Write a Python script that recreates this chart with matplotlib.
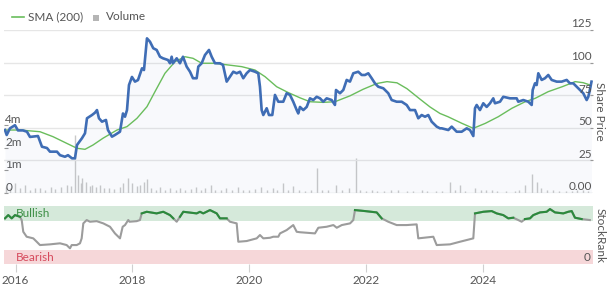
import numpy as np
import matplotlib
matplotlib.use("Agg")
import matplotlib.pyplot as plt
from matplotlib.lines import Line2D
from matplotlib.patches import Rectangle
from matplotlib.ticker import NullLocator
from matplotlib.transforms import blended_transform_factory

plt.rcParams['font.family'] = ['Lato', 'DejaVu Sans']

# share price (decimal year, price)
price_t = [2015.817, 2015.846, 2015.902, 2015.988, 2016.039, 2016.125, 2016.193, 2016.245, 2016.382, 2016.45,
           2016.536, 2016.587, 2016.707, 2016.759, 2016.844, 2016.896, 2016.964, 2017.015, 2017.05, 2017.135,
           2017.187, 2017.221, 2017.307, 2017.358, 2017.392, 2017.426, 2017.478, 2017.546, 2017.58, 2017.649,
           2017.7, 2017.786, 2017.837, 2017.872, 2017.906, 2017.94, 2017.991, 2018.043, 2018.094, 2018.163,
           2018.197, 2018.248, 2018.3, 2018.356, 2018.414, 2018.471, 2018.522, 2018.608, 2018.642, 2018.671,
           2018.693, 2018.757, 2018.813, 2018.865, 2018.928, 2018.985, 2019.036, 2019.099, 2019.127, 2019.185,
           2019.241, 2019.31, 2019.356, 2019.413, 2019.498, 2019.55, 2019.613, 2019.67, 2019.726, 2019.784,
           2019.841, 2019.897, 2019.955, 2020.012, 2020.098, 2020.154, 2020.183, 2020.212, 2020.24, 2020.298,
           2020.337, 2020.394, 2020.44, 2020.497, 2020.582, 2020.64, 2020.697, 2020.753, 2020.812, 2020.839,
           2020.868, 2020.925, 2020.983, 2021.039, 2021.096, 2021.154, 2021.211, 2021.267, 2021.325, 2021.411,
           2021.467, 2021.485, 2021.553, 2021.61, 2021.668, 2021.724, 2021.781, 2021.866, 2021.925, 2021.981,
           2022.038, 2022.096, 2022.152, 2022.209, 2022.295, 2022.38, 2022.438, 2022.524, 2022.61, 2022.695,
           2022.752, 2022.838, 2022.894, 2022.952, 2023.009, 2023.065, 2023.123, 2023.209, 2023.265, 2023.295,
           2023.408, 2023.466, 2023.551, 2023.637, 2023.723, 2023.779, 2023.836, 2023.865, 2023.894, 2023.95,
           2024.007, 2024.065, 2024.122, 2024.178, 2024.207, 2024.293, 2024.349, 2024.464, 2024.579, 2024.606,
           2024.692, 2024.777, 2024.836, 2024.853, 2024.892, 2024.921, 2024.949, 2025.007, 2025.063, 2025.12,
           2025.178, 2025.264, 2025.349, 2025.435, 2025.491, 2025.548, 2025.606, 2025.662, 2025.719, 2025.777,
           2025.805, 2025.832, 2025.86]
price = [48.3, 44.5, 49.6, 52, 48, 48, 47, 43, 43.7, 35.5,
         34.5, 31.7, 31.7, 29, 27.8, 29, 26.6, 26.6, 36.8, 42,
         45.8, 57.3, 59.8, 61.6, 63.6, 57.3, 54.7, 56, 48.3, 43.2,
         44.5, 47, 61, 58.5, 63.6, 82.8, 89, 85.4, 86.6, 95.6,
         94.3, 118.6, 116, 111, 109.7, 104.5, 103.3, 102, 99.5, 104.5,
         99.5, 103.3, 99.5, 104.5, 96.9, 93, 88, 88, 96.9, 99.5,
         105.8, 109.7, 104.5, 99.5, 99.5, 98.2, 85.4, 89.2, 93, 91.8,
         93, 88, 91.8, 94.3, 93, 91.8, 81.5, 63.6, 59.8, 65,
         59.8, 59.8, 75.2, 70, 70, 76.5, 75.2, 70, 63.6, 61,
         66, 63.6, 66, 72.6, 71.3, 73.8, 72.6, 70, 72.6, 71.3,
         67.5, 79, 76.5, 79, 86.7, 85.4, 91.8, 93, 90.5, 90.5,
         91.8, 88, 84.1, 81.5, 80.3, 76.5, 71.3, 70, 70, 67.5,
         63.6, 63.6, 57.3, 59.8, 58.5, 59.8, 54.7, 50.9, 49.6, 49.6,
         48.3, 50.9, 47, 47, 49.6, 48.3, 43.7, 65, 67.5, 63.6,
         68.8, 66, 68.8, 72.6, 68.8, 70, 73.8, 72.6, 72.6, 70,
         71.3, 70, 67.5, 79, 84.1, 82.8, 91.8, 86.7, 88, 90.5,
         86.7, 85.4, 85.4, 86.7, 84.1, 84.1, 81.5, 79, 76.5, 71.3,
         73.8, 79, 85.4]

# 200 day moving average
sma_t = [2015.817, 2016.074, 2016.416, 2016.639, 2016.878, 2017.05, 2017.187, 2017.324, 2017.495, 2017.735,
         2017.906, 2018.077, 2018.248, 2018.385, 2018.556, 2018.728, 2018.899, 2019.036, 2019.185, 2019.413,
         2019.635, 2019.87, 2020.098, 2020.27, 2020.469, 2020.668, 2020.868, 2021.039, 2021.262, 2021.467,
         2021.724, 2021.947, 2022.187, 2022.358, 2022.529, 2022.7, 2022.923, 2023.094, 2023.265, 2023.402,
         2023.642, 2023.836, 2024.041, 2024.264, 2024.498, 2024.724, 2024.895, 2025.118, 2025.358, 2025.58,
         2025.717, 2025.837]
sma = [48.3, 48.3, 47, 43.2, 38, 34.3, 33.5, 36.8, 42, 48.3,
       50.9, 57.3, 66.2, 77.7, 91.8, 100.7, 104.5, 103.3, 99.5, 99.5,
       98.2, 96.9, 94.3, 89.2, 81.5, 77, 73, 70, 69.5, 70,
       74.5, 79.5, 84, 85.4, 84.5, 80, 72, 66, 61, 58.5,
       53.4, 49.6, 53.4, 58.5, 65, 70, 72.6, 77.7, 81.5, 85.4,
       84.6, 82.8]

# volume (millions)
vol_t = [2015.83, 2015.90, 2015.99, 2016.08, 2016.16, 2016.25, 2016.33, 2016.42, 2016.50, 2016.60,
         2016.68, 2016.78, 2016.88, 2016.95, 2017.02, 2017.07, 2017.12, 2017.14, 2017.20, 2017.27,
         2017.31, 2017.38, 2017.45, 2017.52, 2017.60, 2017.68, 2017.78, 2017.84, 2017.92, 2018.00,
         2018.08, 2018.13, 2018.20, 2018.25, 2018.32, 2018.40, 2018.47, 2018.56, 2018.65, 2018.75,
         2018.81, 2018.90, 2019.00, 2019.08, 2019.17, 2019.25, 2019.34, 2019.42, 2019.52, 2019.60,
         2019.70, 2019.80, 2019.90, 2020.00, 2020.10, 2020.20, 2020.30, 2020.40, 2020.48, 2020.58,
         2020.66, 2020.75, 2020.85, 2020.95, 2021.05, 2021.16, 2021.25, 2021.35, 2021.48, 2021.58,
         2021.70, 2021.82, 2021.90, 2022.00, 2022.10, 2022.18, 2022.30, 2022.42, 2022.55, 2022.70,
         2022.80, 2022.95, 2023.05, 2023.20, 2023.30, 2023.44, 2023.52, 2023.61, 2023.70, 2023.86,
         2023.96, 2024.05, 2024.15, 2024.25, 2024.40, 2024.55, 2024.62, 2024.72, 2024.84, 2024.92,
         2025.00, 2025.10, 2025.20, 2025.30, 2025.42, 2025.52, 2025.62, 2025.72, 2025.80]
vol_m = [0.25, 0.2, 0.44, 0.2, 0.35, 0.15, 0.2, 0.22, 0.15, 0.28,
         0.18, 0.25, 0.35, 0.3, 2.9, 0.79, 0.45, 0.65, 0.5, 0.3,
         0.35, 0.25, 0.35, 0.2, 0.22, 0.18, 0.25, 0.43, 0.65, 0.43,
         0.3, 0.35, 0.5, 0.6, 0.2, 0.15, 0.28, 0.15, 0.2, 0.15,
         0.22, 0.12, 0.18, 0.28, 0.15, 0.2, 0.35, 0.15, 0.12, 0.22,
         0.15, 0.28, 0.15, 0.12, 0.18, 0.28, 0.15, 0.2, 0.12, 0.43,
         0.15, 0.3, 0.12, 0.1, 0.15, 1.08, 0.12, 0.15, 0.35, 0.12,
         0.2, 1.47, 0.15, 0.1, 0.12, 0.1, 0.08, 0.12, 0.15, 0.1,
         0.08, 0.12, 0.1, 0.08, 0.1, 0.5, 0.12, 0.35, 0.1, 0.2,
         0.12, 0.15, 0.12, 0.1, 0.08, 0.1, 0.15, 0.35, 0.84, 0.5,
         0.2, 0.12, 0.15, 0.1, 0.08, 0.1, 0.12, 0.15, 0.1]

# StockRank
rank_t = [2015.817, 2015.873, 2015.932, 2015.988, 2016.074, 2016.103, 2016.13, 2016.188, 2016.301, 2016.36,
          2016.416, 2016.587, 2016.759, 2016.873, 2016.93, 2016.959, 2017.045, 2017.101, 2017.13, 2017.158,
          2017.216, 2017.272, 2017.387, 2017.5, 2017.615, 2017.7, 2017.786, 2017.832, 2017.872, 2017.928,
          2017.949, 2018.072, 2018.128, 2018.158, 2018.244, 2018.414, 2018.527, 2018.642, 2018.699, 2018.757,
          2018.813, 2018.87, 2019.099, 2019.156, 2019.212, 2019.327, 2019.442, 2019.498, 2019.613, 2019.67,
          2019.784, 2019.812, 2019.955, 2020.127, 2020.183, 2020.24, 2020.355, 2020.411, 2020.497, 2020.526,
          2020.64, 2020.753, 2020.812, 2020.868, 2021.125, 2021.182, 2021.325, 2021.44, 2021.498, 2021.584,
          2021.726, 2021.781, 2021.81, 2021.981, 2022.182, 2022.267, 2022.38, 2022.524, 2022.695, 2022.866,
          2022.894, 2023.151, 2023.209, 2023.437, 2023.608, 2023.836, 2023.865, 2024.007, 2024.151, 2024.236,
          2024.349, 2024.435, 2024.521, 2024.606, 2024.664, 2024.721, 2024.807, 2024.863, 2024.978, 2025.092,
          2025.149, 2025.235, 2025.377, 2025.462, 2025.521, 2025.577, 2025.692, 2025.832]
rank = [78.8, 84.4, 78.8, 84.4, 81.5, 75.9, 55.8, 47.3, 44.5, 38.7,
        33, 34.2, 36, 33, 27.4, 33, 33, 36, 44.5, 70.2,
        75.9, 73, 74, 70.2, 64.4, 53, 44.5, 64.4, 67.3, 76,
        73, 74, 75.9, 87.3, 90.1, 87.3, 90.1, 84.4, 78.8, 73,
        81.5, 90.1, 87.3, 90.1, 87.3, 93, 87.3, 78.8, 78.8, 73,
        70.2, 38.7, 39.9, 44.5, 50.2, 44.5, 45.5, 47.3, 47.3, 53,
        58.7, 67.3, 55.8, 55, 53, 62.7, 64.4, 67.3, 62.7, 67.3,
        70.2, 75.9, 93, 91.3, 89, 78.8, 73, 67.3, 67.3, 68.5,
        44.5, 47.3, 33, 34.2, 38.7, 44.5, 87.3, 90.1, 91.3, 87.3,
        84.4, 78.8, 79.9, 75.9, 73, 77.6, 78.8, 84.4, 89, 90.1,
        94.7, 89, 87.3, 90.1, 91.3, 79.9, 77.6, 75.9]

price_ticks = [25, 50, 75, 100, 125]
vol_ticks = [0, 1e6, 2e6, 4e6]
vol_labels = ['0', '1m', '2m', '4m']
year_ticks = [2016, 2018, 2020, 2022, 2024]

TXT = '#555555'
BLUE = '#3f6db5'
SMAG = '#6abd5c'
GRID = '#e6e6e6'

W, H = 608, 287
fig = plt.figure(figsize=(W / 100, H / 100), dpi=100)
x0, x1 = 4, 593
xlim = (2015.80, 2015.80 + (x1 - x0) / 58.4)

# volume axes (below), price axes on top
rect_top = [x0 / W, (H - 193) / H, (x1 - x0) / W, (193 - 30) / H]
axv = fig.add_axes(rect_top)
ax = fig.add_axes(rect_top)
axv.set_zorder(1)
ax.set_zorder(2)
ax.patch.set_visible(False)

axv.set_yscale('symlog', base=2, linthresh=1e6, linscale=0.5)
axv.set_ylim(0, 2 ** 6.18 * 1e6)
axv.vlines(vol_t, 0, np.array(vol_m) * 1e6, color='#c9c9c9', lw=1.0)
axv.set_xlim(*xlim)
for s in axv.spines.values():
    s.set_visible(False)
axv.set_xticks([])
axv.set_yticks(vol_ticks)
axv.yaxis.set_minor_locator(NullLocator())
axv.tick_params(axis='y', direction='in', length=3, width=0.8, color='#999999',
                labelleft=False, pad=0)
tv = blended_transform_factory(axv.transAxes, axv.transData)
for v, lab in zip(vol_ticks, vol_labels):
    axv.text(0.002, v, lab, transform=tv, ha='left', va='bottom', fontsize=8.5, color=TXT)

ax.set_xlim(*xlim)
ax.set_ylim(0, 125)
for v in price_ticks:
    ax.axhline(v, color=GRID, lw=1, zorder=0)
ax.axhline(0, color='#dddddd', lw=1, zorder=0)
ax.fill_between(price_t, price, 0, color='#3f6db5', alpha=0.035, lw=0)
ax.plot(sma_t, sma, color=SMAG, lw=1.0)
ax.plot(price_t, price, color=BLUE, lw=1.9, solid_joinstyle='round')
for s in ax.spines.values():
    s.set_visible(False)
ax.set_xticks([])
ax.set_yticks(price_ticks)
ax.yaxis.tick_right()
ax.tick_params(axis='y', direction='in', length=2, width=0.8, color='#999999',
               labelright=False, labelleft=False)
tp = blended_transform_factory(ax.transAxes, ax.transData)
for v in price_ticks:
    ax.text(0.998, v + 0.5, str(v), transform=tp, ha='right', va='bottom', fontsize=8.5, color=TXT)
ax.text(0.998, 0.5, '0.00', transform=tp, ha='right', va='bottom', fontsize=8.5, color=TXT)
fig.text(600 / W, (H - 111) / H, 'Share Price', rotation=270, ha='center', va='center',
         fontsize=8.5, color=TXT)

# StockRank panel
axr = fig.add_axes([x0 / W, (H - 264.3) / H, (x1 - x0) / W, (264.3 - 206) / H])
axr.set_xlim(*xlim)
axr.set_ylim(0, 100)
axr.axhspan(75, 100, color='#d5e9da', lw=0, zorder=0)
axr.axhspan(0, 25, color='#f6d7d9', lw=0, zorder=0)
axr.text(2016.0, 87.5, 'Bullish', ha='left', va='center', fontsize=8.5, color='#3d8f45', zorder=1)
axr.text(2016.0, 11, 'Bearish', ha='left', va='center', fontsize=8.5, color='#d64a5c', zorder=1)
rank_a = np.array(rank)
axr.plot(rank_t, rank_a, color='#9c9c9c', lw=1.5, zorder=2)
axr.plot(rank_t, np.where(rank_a >= 77.5, rank_a, np.nan), color='#2b8a3c', lw=1.5, zorder=3)
for s in axr.spines.values():
    s.set_visible(False)
axr.set_yticks([])
axr.set_xticks(year_ticks)
axr.set_xticklabels([str(y) for y in year_ticks])
axr.tick_params(axis='x', length=6, color='#d0d0d0', labelcolor=TXT, labelsize=8.5, pad=2)
tr = blended_transform_factory(axr.transAxes, axr.transData)
axr.text(0.995, 2, '0', transform=tr, ha='right', va='bottom', fontsize=8.5, color=TXT)
fig.text(600 / W, (H - 235) / H, 'StockRank', rotation=270, ha='center', va='center',
         fontsize=8.5, color=TXT)

# legend
fig.add_artist(Line2D([12 / W, 24 / W], [(H - 17) / H] * 2, color=SMAG, lw=1.2))
fig.text(28 / W, (H - 17) / H, 'SMA (200)', ha='left', va='center', fontsize=8.5, color=TXT)
fig.add_artist(Rectangle((93 / W, (H - 21) / H), 6 / W, 6 / H, color='#b5b5b5', lw=0))
fig.text(106 / W, (H - 17) / H, 'Volume', ha='left', va='center', fontsize=8.5, color=TXT)

fig.savefig('out.png', dpi=100)
